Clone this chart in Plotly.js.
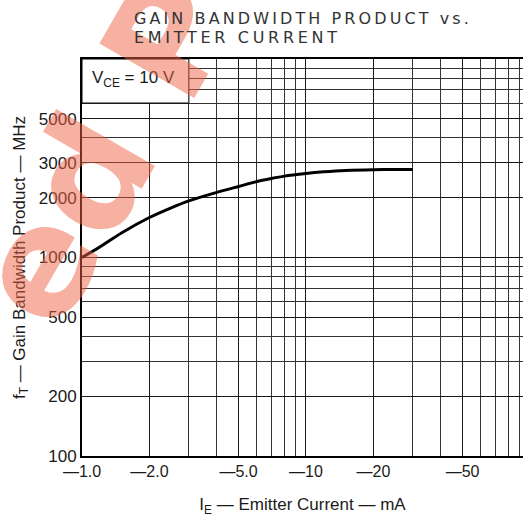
<!DOCTYPE html>
<html>
<head>
<meta charset="utf-8">
<script src="https://cdn.plot.ly/plotly-3.0.1.min.js"></script>
<style>
html,body{margin:0;padding:0;background:#fff;}
#chart{width:523px;height:519px;}
.annotation[data-index="2"] text{letter-spacing:3.1px;}
.annotation[data-index="3"] text{letter-spacing:3.7px;}
</style>
</head>
<body>
<div id="chart"></div>
<script>
// Data
const emitterCurrent = [1.0, 1.2, 1.5, 2, 2.5, 3, 4, 5, 6, 7, 8, 10, 12, 15, 20, 25, 30];
const gainBandwidth = [1000, 1130, 1330, 1590, 1780, 1930, 2130, 2280, 2410, 2500, 2570, 2650, 2700, 2745, 2770, 2775, 2775];
const xTickVals = [1, 2, 5, 10, 20, 50];
const xTickText = ["—1.0", "—2.0", "—5.0", "—10", "—20", "—50"];
const yTickVals = [100, 200, 500, 1000, 2000, 3000, 5000];
const yTickText = ["100", "200", "500", "1000", "2000", "3000", "5000"];
const titleLines = ["GAIN BANDWIDTH PRODUCT vs.", "EMITTER CURRENT"];
const digits = [1, 2, 3, 4, 5, 6, 7, 8, 9];
const xMinor = [1, 10].flatMap(d => digits.map(k => k * d));
const yMinor = [100, 1000].flatMap(d => digits.map(k => k * d)).concat([10000]);

const ink = "#1a1a1a";
const data = [{
  x: emitterCurrent, y: gainBandwidth, type: "scatter", mode: "lines",
  line: {color: "#000", width: 3, shape: "spline", smoothing: 0.6},
  hoverinfo: "skip"
}];

const layout = {
  width: 523, height: 519,
  margin: {l: 82, r: 0, t: 59, b: 63},
  paper_bgcolor: "#fff", plot_bgcolor: "#fff",
  showlegend: false,
  font: {family: "Liberation Sans, Arial, sans-serif", color: ink},
  xaxis: {
    type: "log", range: [0, 1.969], fixedrange: true,
    tickmode: "array", tickvals: xTickVals, ticktext: xTickText,
    ticks: "", showgrid: true, gridcolor: ink, gridwidth: 1,
    minor: {tickmode: "array", tickvals: xMinor, showgrid: true, gridcolor: "#333", gridwidth: 1, ticks: ""},
    showline: true, linecolor: "#000", linewidth: 2, mirror: true,
    zeroline: false,
    tickfont: {family: "Liberation Sans, Arial, sans-serif", size: 16, color: ink},
    title: {text: "I<sub>E</sub> — Emitter Current — mA", standoff: 19,
            font: {family: "Liberation Sans, Arial, sans-serif", size: 17, color: ink}}
  },
  yaxis: {
    type: "log", range: [2, 4], fixedrange: true,
    tickmode: "array", tickvals: yTickVals, ticktext: yTickText,
    ticks: "", showgrid: true, gridcolor: ink, gridwidth: 1,
    minor: {tickmode: "array", tickvals: yMinor, showgrid: true, gridcolor: "#333", gridwidth: 1, ticks: ""},
    showline: true, linecolor: "#000", linewidth: 2, mirror: true,
    zeroline: false,
    tickfont: {family: "Liberation Sans, Arial, sans-serif", size: 17, color: ink},
    title: {text: "f<sub>T</sub> — Gain Bandwidth Product — MHz", standoff: 9,
            font: {family: "Liberation Sans, Arial, sans-serif", size: 17, color: ink}}
  },
  shapes: [{
    type: "rect", xref: "x", yref: "y", layer: "above",
    x0: 1, x1: 3, y0: 6000, y1: 10000,
    fillcolor: "#fff", line: {color: "#000", width: 1}
  }],
  annotations: [{
    xref: "x", yref: "y", x: Math.log10(1.7), y: Math.log10(7900),
    text: "V<sub>CE</sub> = 10 V", showarrow: false,
    font: {family: "Liberation Sans, Arial, sans-serif", size: 17, color: ink}
  }, {
    xref: "paper", yref: "paper", x: 0.05, y: 0.771, xanchor: "center", yanchor: "middle",
    text: "<b>ed P</b>", showarrow: false, textangle: -60,
    font: {family: "DejaVu Sans, sans-serif", size: 150, color: "rgba(240,100,70,0.5)"}
  }, {
    xref: "paper", yref: "paper", x: 0.113, y: 1.131, xanchor: "left", yanchor: "top",
    text: titleLines[0], showarrow: false, align: "left",
    font: {family: "DejaVu Sans, sans-serif", size: 16, color: "#333"}
  }, {
    xref: "paper", yref: "paper", x: 0.113, y: 1.083, xanchor: "left", yanchor: "top",
    text: titleLines[1], showarrow: false, align: "left",
    font: {family: "DejaVu Sans, sans-serif", size: 16, color: "#333"}
  }]
};

Plotly.newPlot("chart", data, layout, {displayModeBar: false, staticPlot: true});
</script>
</body>
</html>
